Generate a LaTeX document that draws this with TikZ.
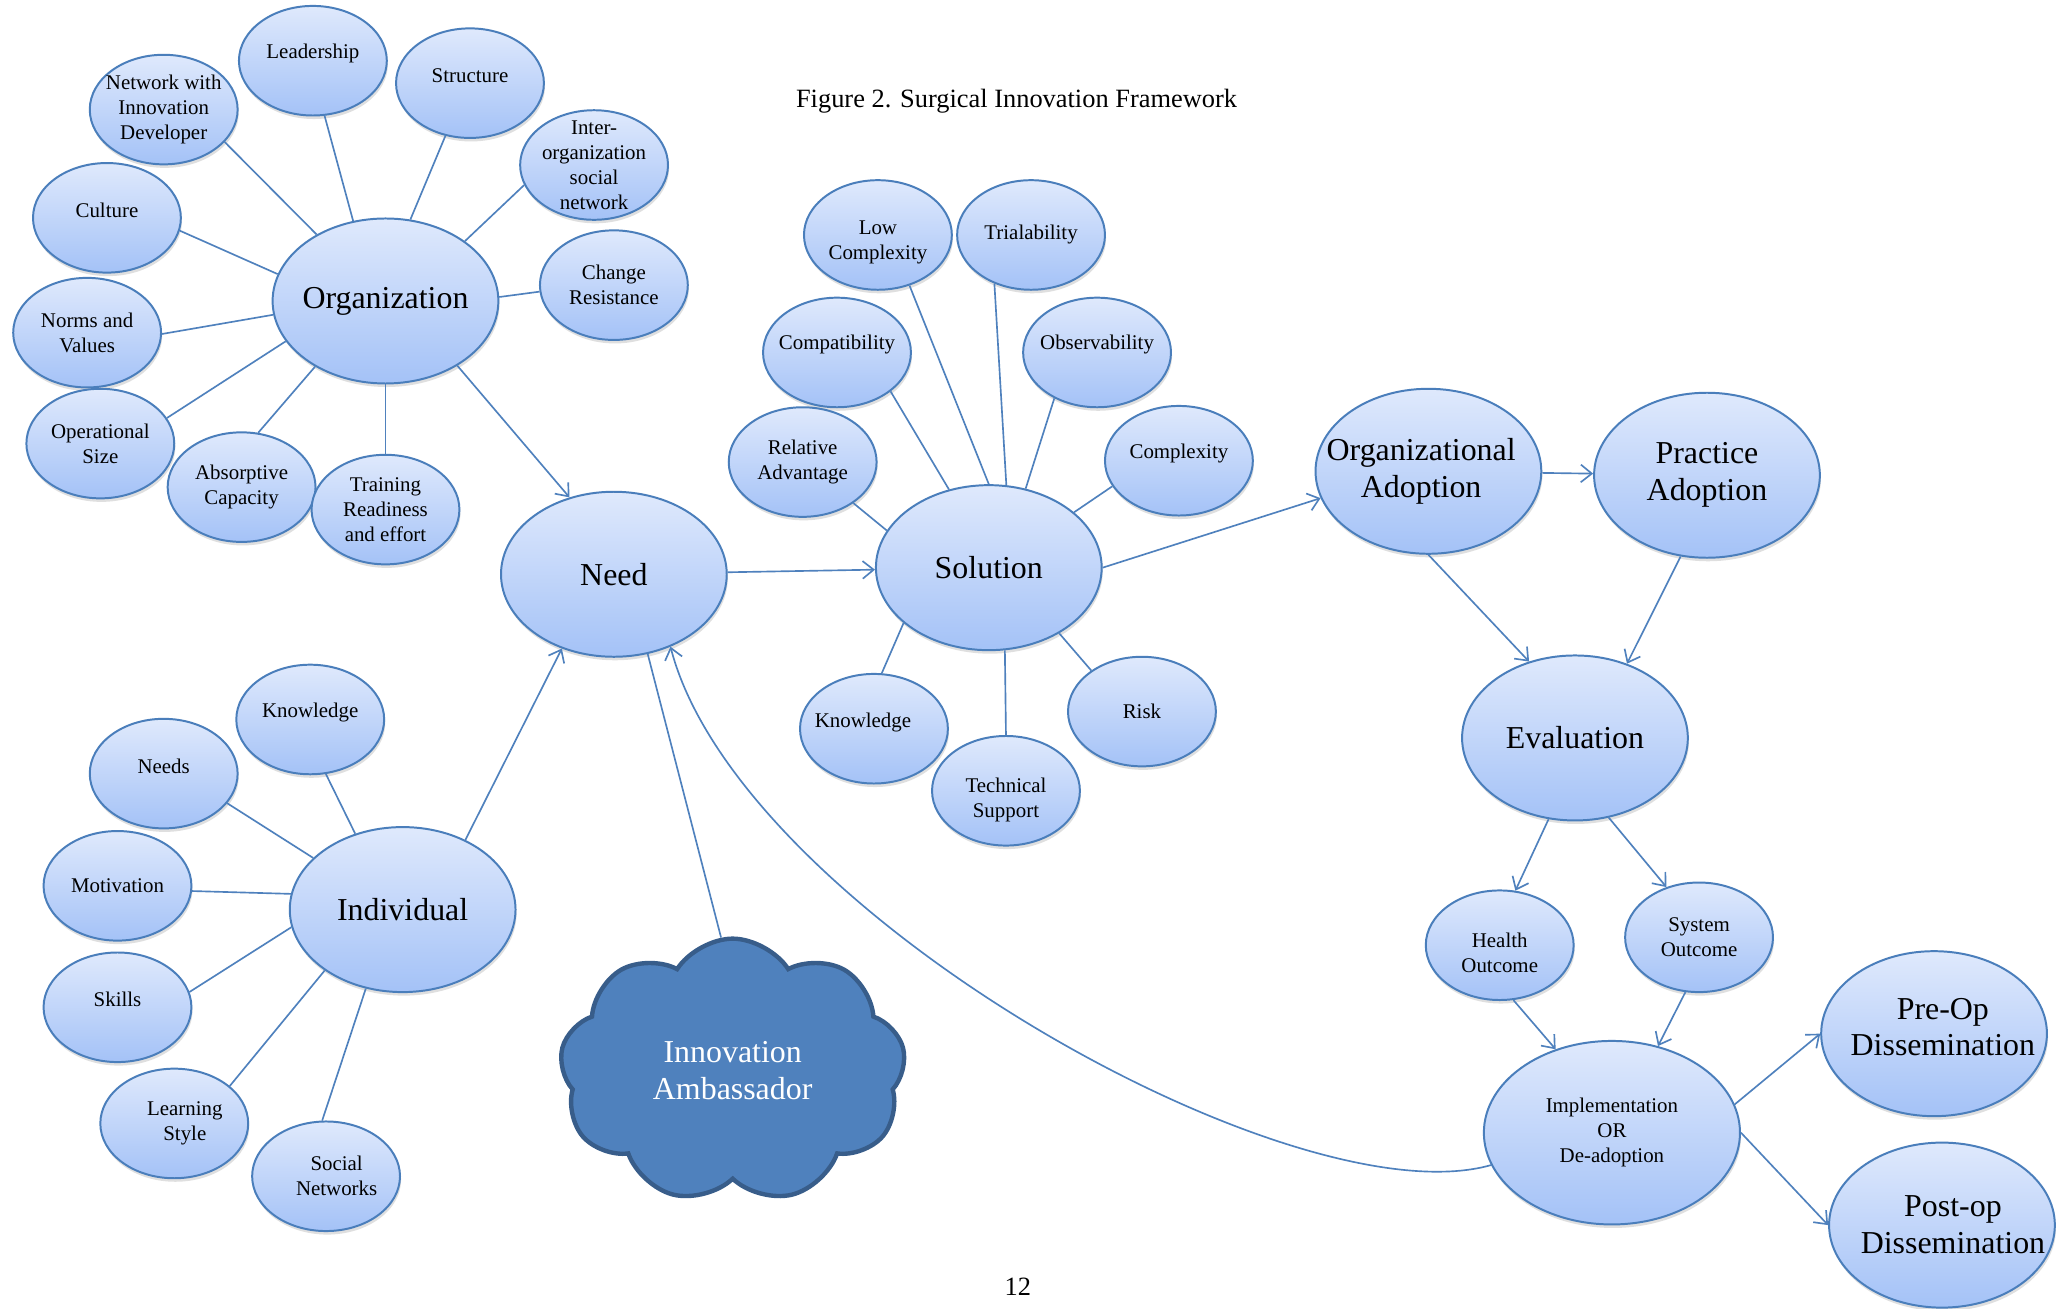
\documentclass[tikz,border=0pt]{standalone}
\usepackage{fontspec}
\setmainfont{Liberation Serif}
\usepackage{xcolor}
\usetikzlibrary{arrows.meta}
\usetikzlibrary{shapes.geometric, shapes.symbols, shadows}

\definecolor{bubline}{HTML}{4A7EBB}
\definecolor{bubtop}{HTML}{DFE9FC}
\definecolor{bubbot}{HTML}{A4C2F7}
\definecolor{linkcol}{HTML}{4F81BD}
\definecolor{cloudfill}{HTML}{4F81BD}
\definecolor{cloudline}{HTML}{385D8A}

\def\pxl{0.6pt}

\tikzset{
  sml/.style={font=\fontsize{9.5}{11.4}\selectfont, align=center},
  lrg/.style={font=\fontsize{14.5}{16.8}\selectfont, align=center},
  base/.style={ellipse, draw=bubline, line width=0.9pt, top color=bubtop, bottom color=bubbot,
    drop shadow={shadow xshift=0.5pt, shadow yshift=-1.6pt, opacity=0.25}, inner sep=0pt},
  smallsize/.style={minimum width=112*\pxl, minimum height=83*\pxl},
  bigsize/.style={minimum width=171*\pxl, minimum height=125*\pxl},
  bub/.style={base, smallsize, label={[sml]center:{#1}}},
  bubup/.style={base, smallsize, label={[sml,yshift=3.4pt]center:{#1}}},
  bubat/.style 2 args={base, smallsize, label={[sml,#2]center:{#1}}},
  big/.style={base, bigsize, label={[lrg]center:{#1}}},
  bigat/.style 2 args={base, bigsize, label={[lrg,#2]center:{#1}}},
  link/.style={draw=linkcol, line width=0.75pt},
}

\begin{document}
\begin{tikzpicture}[x=\pxl, y=-\pxl, >={Straight Barb[length=5pt,width=8pt]}]
  \useasboundingbox[fill=white] (0,0) rectangle (1568,991);

  % TITLE
  \node[font=\fontsize{12}{14}\selectfont] (title) at (770,77) {Figure 2. Surgical Innovation Framework};
  \node[font=\fontsize{12}{14}\selectfont] (pgnum) at (771,975) {12};

  % ORGANIZATION
  \node[big=Organization] (org) at (292,228) {};
  \node[bub={Network with\\Innovation\\Developer}] (netw) at (124,83) {};
  \node[bubup=Leadership] (lead) at (237,46) {};
  \node[bubup=Structure] (struc) at (356,63) {};
  \node[bub={Inter-\\organization\\social\\network}] (inter) at (450,125) {};
  \node[bub={Change\\Resistance}] (chg) at (465,216) {};
  \node[bubup=Culture] (cult) at (81,165) {};
  \node[bub={Norms and\\Values}] (norm) at (66,252) {};
  \node[bub={Operational\\Size}] (oper) at (76,336) {};
  \node[bub={Absorptive\\Capacity}] (absorb) at (183,369) {};
  \node[bub={Training\\Readiness\\and effort}] (train) at (292,386) {};
  \foreach \s/\a/\b in {netw/136/332, lead/112/282, struc/73/245, inter/37/196, chg/2/185,
                        cult/166/350, norm/187/359, oper/202/21, absorb/223/73, train/270/90}
    \draw[link] (org.\a) -- (\s.\b);

  % NEED
  \node[big=Need] (need) at (465,435) {};

  % SOLUTION
  \node[big=Solution] (sol) at (749,430) {};
  \node[bubat={Low\\Complexity}{yshift=-3.5pt}] (lowc) at (665,178) {};
  \node[bub=Trialability] (trial) at (781,178) {};
  \node[bubup=Compatibility] (compat) at (634,267) {};
  \node[bubup=Observability] (obs) at (831,267) {};
  \node[bub={Relative\\Advantage}] (relad) at (608,350) {};
  \node[bubup=Complexity] (cplx) at (893,349) {};
  \node[bubat={Knowledge}{xshift=-5pt,yshift=3pt}] (sknow) at (662,552) {};
  \node[bubat={Technical\\Support}{yshift=-4pt}] (tech) at (762,599) {};
  \node[bub=Risk] (risk) at (865,539) {};
  \foreach \s/\a/\b in {lowc/90/302, trial/78/233, compat/117/324, obs/65/227, relad/160/321,
                        cplx/33/201, sknow/213/82, tech/281/90, risk/317/141}
    \draw[link] (sol.\a) -- (\s.\b);

  % INDIVIDUAL
  \node[big=Individual] (indiv) at (305,689) {};
  \node[bubup=Knowledge] (iknow) at (235,545) {};
  \node[bubup=Needs] (needs) at (124,586) {};
  \node[bub=Motivation] (motiv) at (89,671) {};
  \node[bubup=Skills] (skill) at (89,763) {};
  \node[bubat={Learning\\Style}{xshift=4.8pt}] (learn) at (132,851) {};
  \node[bubat={Social\\Networks}{xshift=4.8pt}] (socnet) at (247,891) {};
  \foreach \s/\a/\b in {iknow/122/286, needs/150/335, motiv/172/356, skill/189/12,
                        learn/218/34, socnet/245/94}
    \draw[link] (indiv.\a) -- (\s.\b);

  % AMBASSADOR
  \node[cloud, cloud puffs=9, cloud puff arc=115, cloud ignores aspect, fill=cloudfill,
    draw=cloudline, line width=2pt, minimum width=262*\pxl, minimum height=200*\pxl,
    label={[lrg,text=white]center:{Innovation\\Ambassador}}] (amb) at (555,811) {};

  % ADOPTION
  \node[bigat={Organizational\\Adoption}{xshift=-3.3pt}] (orgad) at (1082,357) {};
  \node[big={Practice\\Adoption}] (pracad) at (1293,360) {};
  \node[big=Evaluation] (eval) at (1193,559) {};
  \node[bubat={Health\\Outcome}{yshift=-3.5pt}] (hlth) at (1136,716) {};
  \node[bub={System\\Outcome}] (sysout) at (1287,710) {};
  \node[base, minimum width=194*\pxl, minimum height=139*\pxl,
    label={[sml]center:{Implementation\\OR\\De-adoption}}] (impl) at (1221,858) {};
  \node[bigat={Pre-Op\\Dissemination}{xshift=4pt,yshift=3pt}] (preop) at (1465,783) {};
  \node[bigat={Post-op\\Dissemination}{xshift=5pt}] (postop) at (1471,928) {};

  % ARROWS
  \draw[link,->] (org.318) -- (need.120);
  \draw[link,->] (indiv.48) -- (need.235);
  \draw[link] (amb.95) -- (need.293);
  \draw[link,->] (need) -- (sol);
  \draw[link,->] (sol.east) -- (orgad.194);
  \draw[link,->] (orgad) -- (pracad);
  \draw[link,->] (orgad.south) -- (eval.121);
  \draw[link,->] (pracad.252) -- (eval.55);
  \draw[link,->] (eval.252) -- (hlth.74);
  \draw[link,->] (eval.293) -- (sysout.123);
  \draw[link,->] (hlth.284) -- (impl.124);
  \draw[link,->] (sysout.256) -- (impl.62);
  \draw[link,->] (impl.13) -- (preop.west);
  \draw[link,->] (impl.east) -- (postop.west);
  \draw[link,->] (impl.195) .. controls (980,925) and (560,690) .. (need.308); % feedback
\end{tikzpicture}
\end{document}
